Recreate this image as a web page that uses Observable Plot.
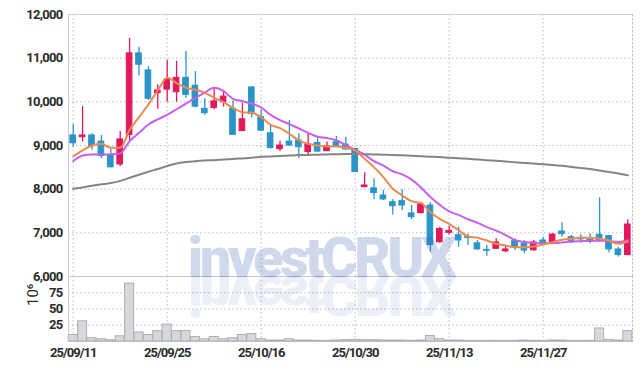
<!DOCTYPE html>
<html><head><meta charset="utf-8">
<script src="https://cdn.jsdelivr.net/npm/d3@7"></script>
<script src="https://cdn.jsdelivr.net/npm/@observablehq/plot@0.6"></script>
<style>
body{margin:0;background:#fff;}
#chart{position:relative;width:642px;height:370px;background:#fff;}
#chart svg{position:absolute;left:0;top:0;}
#chart g[aria-label="y-axis tick label"] text{letter-spacing:-0.7px;}
#chart g[aria-label="x-axis tick label"] text{letter-spacing:-1px;}
</style></head><body><div id="chart"></div>
<script>
const dates = ["2025-09-11","2025-09-12","2025-09-15","2025-09-16","2025-09-17","2025-09-18","2025-09-19","2025-09-22","2025-09-23","2025-09-24",
"2025-09-25","2025-09-26","2025-09-29","2025-09-30","2025-10-01","2025-10-02","2025-10-10","2025-10-13","2025-10-14","2025-10-15",
"2025-10-16","2025-10-17","2025-10-20","2025-10-21","2025-10-22","2025-10-23","2025-10-24","2025-10-27","2025-10-28","2025-10-29",
"2025-10-30","2025-10-31","2025-11-03","2025-11-04","2025-11-05","2025-11-06","2025-11-07","2025-11-10","2025-11-11","2025-11-12",
"2025-11-13","2025-11-14","2025-11-17","2025-11-18","2025-11-19","2025-11-20","2025-11-21","2025-11-24","2025-11-25","2025-11-26",
"2025-11-27","2025-11-28","2025-12-01","2025-12-02","2025-12-03","2025-12-04","2025-12-05","2025-12-08","2025-12-09","2025-12-10"];
const open = [9230,9190,9230,9090,8780,8565,9240,11110,10720,10200,
10280,10220,10550,10370,9840,9860,9990,9840,9330,10330,
9650,9280,8915,9090,9115,8850,9060,8870,9075,9020,
8920,8045,8020,7855,7700,7725,7445,7450,7625,6785,
7000,6945,6900,6760,6610,6635,6575,6810,6750,6600,
6825,6750,7030,6900,6885,6840,6955,6925,6620,6490];
const high = [9480,9890,9270,9230,8910,9320,11450,11250,10810,10390,
10950,10930,11150,10690,10070,10300,10240,10020,9970,10350,
9820,9470,9100,9570,9270,9270,9190,9080,9210,9190,
8930,8375,8240,7970,7765,7985,7625,7700,7690,7130,
7150,7130,6975,6825,6710,6865,6690,6865,6825,6825,
6900,6980,7230,6940,6955,6975,7800,6940,6670,7300];
const low = [8960,9080,8890,8700,8490,8520,9110,10590,10030,9830,
9990,9990,10080,9860,9690,9820,9880,9240,9320,9630,
9330,8920,8860,8980,8710,8760,8850,8860,8960,8880,
8385,8045,7760,7740,7410,7510,7300,7435,6560,6760,
6950,6670,6710,6595,6465,6620,6545,6595,6520,6580,
6710,6735,6900,6750,6765,6750,6785,6545,6445,6475];
const close = [9050,9230,8985,8760,8500,9140,11110,10850,10070,10260,
10510,10550,10160,9890,9740,10010,10120,9245,9600,9720,
9340,8940,9000,9000,8960,9020,8860,8980,8980,8910,
8390,8085,7910,7765,7610,7625,7360,7650,6720,7090,
7045,6825,6880,6620,6590,6780,6620,6670,6595,6780,
6755,6960,6970,6785,6850,6795,6825,6620,6490,7190];
const ma5 = [8748,8886,9000,9038,8947,8947,9359,9648,9939,10260,
10550,10427,10321,10275,10206,10091,9992,9855,9763,9749,
9648,9474,9397,9268,9115,9038,9000,8977,8977,8947,
8886,8695,8504,8275,8008,7855,7725,7679,7473,7321,
7200,7061,6916,6886,6824,6748,6710,6672,6672,6687,
6733,6786,6840,6863,6886,6886,6863,6824,6748,6802];
const ma20 = [8641,8771,8794,8794,8800,8820,9100,9290,9480,9600,
9700,9830,9960,10090,10210,10320,10244,10069,10015,9960,
9870,9700,9580,9490,9390,9290,9200,9170,9120,9010,
8900,8790,8640,8540,8410,8340,8220,8040,7820,7640,
7490,7410,7310,7230,7130,7050,6950,6830,6790,6770,
6760,6765,6780,6800,6810,6820,6820,6810,6790,6830];
const ma60 = [8008,8040,8080,8110,8140,8190,8260,8330,8400,8460,
8530,8590,8620,8640,8655,8665,8680,8690,8705,8720,
8740,8750,8760,8770,8780,8785,8790,8795,8800,8805,
8805,8800,8795,8790,8785,8775,8765,8755,8745,8735,
8720,8710,8695,8680,8665,8650,8635,8615,8600,8585,
8570,8555,8535,8510,8485,8460,8430,8395,8360,8320];
const volume = [10,31,5,3.5,2,8,89,14,10,16,
26,16,16,7,3.5,7,3.5,5,10,11.5,
3.5,1.5,1.5,3.5,1.5,1.5,1,1,1.5,2,
2.5,2,2,1.5,1.5,1.5,1,1.5,8.5,3.5,
1.5,1.5,1,1,1,1,1,1,1.5,1,
1,1.5,1.5,1,1,1,20,2.5,1.5,16];
const priceTicks = [6000,7000,8000,9000,10000,11000,12000];
const volumeTicks = [25,50,75];
const dateTicks = ["2025-09-11","2025-09-25","2025-10-16","2025-10-30","2025-11-13","2025-11-27"];
const watermark = "investCRUX";
const volumeUnit = "10⁶";

const rows = dates.map((d, i) => ({date: d, open: open[i], high: high[i], low: low[i], close: close[i],
  ma5: ma5[i], ma20: ma20[i], ma60: ma60[i], volume: volume[i]}));

const UP = "#e2185d", DOWN = "#2b94c9";
const FONT = "Roboto, 'Liberation Sans', sans-serif";
const GRID = {stroke: "#b7bbcf", strokeOpacity: 1, strokeDasharray: "1.5,2.5"};
const isUp = r => r.close >= r.open;
const isDown = r => r.close < r.open;
const fmtDate = d => d.slice(2).replace(/-/g, "/");
const TICK = {tickSize: 0, tickPadding: 6, fontSize: 13, fontWeight: "bold", label: null, fill: "#2b2b2b"};
const WM = {dx: -30, lineAnchor: "bottom", fontSize: 56, fontWeight: 900, fontFamily: FONT, fill: "#3c5aaa"};

const common = {width: 642, height: 370, marginLeft: 68, marginRight: 10,
  style: {background: "transparent", overflow: "visible", fontFamily: FONT, fontSize: "13px", color: "#2b2b2b"}};

const price = Plot.plot({
  ...common, marginTop: 14, marginBottom: 94,
  x: {type: "band", domain: dates, paddingInner: 0.4, paddingOuter: 0.2, round: false, axis: null},
  y: {domain: [6000, 12000], axis: null},
  marks: [
    Plot.gridY(priceTicks.slice(1, -1), GRID),
    Plot.gridX(dateTicks, GRID),
    Plot.frame({anchor: "right", ...GRID}),
    Plot.ruleY([12000], {stroke: "#cfd1da"}),
    Plot.ruleY([6000], {stroke: "#c6c8cf"}),
    Plot.frame({anchor: "left", stroke: "#c6c8d2"}),
    Plot.axisY(priceTicks, {...TICK, tickFormat: d3.format(",")}),
    Plot.ruleX(rows, {filter: isUp, x: "date", y1: "low", y2: "high", stroke: UP, strokeWidth: 1.3}),
    Plot.ruleX(rows, {filter: isDown, x: "date", y1: "low", y2: "high", stroke: DOWN, strokeWidth: 1.3}),
    Plot.barY(rows, {filter: isUp, x: "date", y1: "open", y2: "close", fill: UP, stroke: UP, strokeWidth: 1}),
    Plot.barY(rows, {filter: isDown, x: "date", y1: "open", y2: "close", fill: DOWN, stroke: DOWN, strokeWidth: 1}),
    Plot.lineY(rows, {x: "date", y: "ma60", stroke: "#858585", strokeWidth: 2, curve: "monotone-x"}),
    Plot.lineY(rows, {x: "date", y: "ma20", stroke: "#c85fea", strokeWidth: 2, curve: "monotone-x"}),
    Plot.lineY(rows, {x: "date", y: "ma5", stroke: "#ea8a50", strokeWidth: 2, curve: "monotone-x"}),
    Plot.text([watermark], {...WM, frameAnchor: "bottom", fillOpacity: 0.24})
  ]
});

const vol = Plot.plot({
  ...common, marginTop: 276, marginBottom: 29,
  x: {type: "band", domain: dates, paddingInner: 0.04, paddingOuter: 0.02, round: false, axis: null},
  y: {domain: [0, 100], axis: null},
  marks: [
    Plot.gridY(volumeTicks, GRID),
    Plot.gridX(dateTicks, GRID),
    Plot.frame({anchor: "right", ...GRID}),
    Plot.barY(rows, {x: "date", y: "volume", fill: "#d8d8dc", stroke: "#aeaeb4", strokeWidth: 1}),
    Plot.ruleY([0], {stroke: "#bcbcc2"}),
    Plot.frame({anchor: "left", stroke: "#c6c8d2"}),
    Plot.axisY(volumeTicks, TICK),
    Plot.axisX(dateTicks, {...TICK, tickFormat: fmtDate}),
    Plot.text([volumeUnit], {frameAnchor: "left", dx: -35, dy: -3, rotate: -90, fontSize: 15, fill: "#2b2b2b"}),
    Plot.text([watermark], {...WM, frameAnchor: "top", fillOpacity: 0.1})
  ]
});

const chart = document.getElementById("chart");
chart.appendChild(price);
chart.appendChild(vol);

// narrow the watermark letter spacing
for (const svg of [price, vol]) {
  for (const t of svg.querySelectorAll("text")) {
    if (t.textContent === watermark) t.style.letterSpacing = "-3.5px";
  }
}
// mirror the reflected watermark about the panel separator
const texts = Array.from(vol.querySelectorAll("text")).filter(t => t.textContent === watermark);
if (texts.length) {
  const g = texts[0].parentNode;
  const wrap = document.createElementNS("http://www.w3.org/2000/svg", "g");
  g.parentNode.insertBefore(wrap, g);
  wrap.appendChild(g);
  wrap.setAttribute("transform", "translate(0,552) scale(1,-1)");
}
</script></body></html>
